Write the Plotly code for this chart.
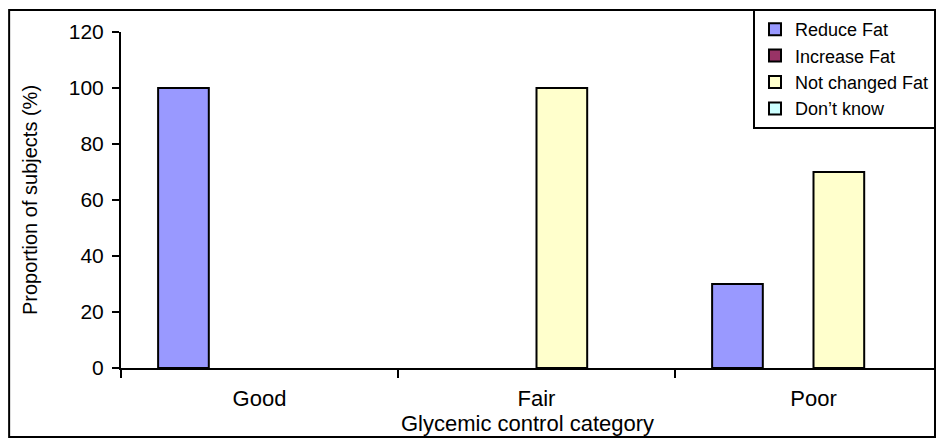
import plotly.graph_objects as go

# Glycemic control categories and the share of subjects (%) per fat-intake change
categories = ["Good", "Fair", "Poor"]
reduce_fat = [100, 0, 30]
increase_fat = [0, 0, 0]
not_changed_fat = [0, 100, 70]
dont_know = [0, 0, 0]

series_names = ["Reduce Fat", "Increase Fat", "Not changed Fat", "Don\u2019t know"]
series_values = [reduce_fat, increase_fat, not_changed_fat, dont_know]
series_colors = ["#9999FF", "#993366", "#FFFFCC", "#CCFFFF"]

y_ticks = [0, 20, 40, 60, 80, 100, 120]

FONT = "Liberation Sans, Arial, sans-serif"

fig = go.Figure()
for name, vals, col in zip(series_names, series_values, series_colors):
    # zero shares leave their slot empty (no outlined sliver on the axis)
    fig.add_trace(go.Bar(
        x=categories, y=[v if v > 0 else None for v in vals], name=name,
        marker=dict(color=col, line=dict(color="black", width=2)),
    ))

W, H = 940, 441
L, R, T, B = 121, 5, 32, 73
pw, ph = W - L - R, H - T - B

def px_x(p):
    return (p - L) / pw

def px_y(p):
    return (H - B - p) / ph

fig.update_layout(
    width=W, height=H,
    margin=dict(l=L, r=R, t=T, b=B, pad=0),
    paper_bgcolor="white", plot_bgcolor="white",
    barmode="group", bargap=0.268, bargroupgap=0,
    font=dict(family=FONT, color="black"),
    showlegend=True,
    legend=dict(
        x=px_x(936), xanchor="right", y=px_y(9), yanchor="top",
        bordercolor="black", borderwidth=2, bgcolor="white",
        font=dict(size=18, family=FONT, color="black"),
        tracegroupgap=0, itemwidth=30,
    ),
    xaxis=dict(
        type="category", range=[-0.5, 2.435],
        showline=True, linecolor="black", linewidth=2,
        ticks="outside", tickson="boundaries", ticklen=8, tickwidth=2, tickcolor="black",
        ticklabelstandoff=10,
        tickfont=dict(size=22, family=FONT), showgrid=False, zeroline=False,
        title=dict(text="Glycemic control category", font=dict(size=22, family=FONT), standoff=0),
    ),
    yaxis=dict(
        range=[0, 120], tickvals=y_ticks, ticktext=[str(v) for v in y_ticks],
        showline=True, linecolor="black", linewidth=2,
        ticks="outside", ticklen=7, tickwidth=2, tickcolor="black",
        ticklabelstandoff=4,
        tickfont=dict(size=21, family=FONT), showgrid=False, zeroline=False,
        title=dict(text="Proportion of subjects (%)", font=dict(size=20, family=FONT), standoff=26),
    ),
    shapes=[dict(
        type="rect", xref="paper", yref="paper",
        x0=px_x(9), x1=px_x(936), y0=px_y(437), y1=px_y(10),
        line=dict(color="black", width=2), fillcolor="rgba(0,0,0,0)", layer="below",
    )],
)

fig.write_html("out.html")
